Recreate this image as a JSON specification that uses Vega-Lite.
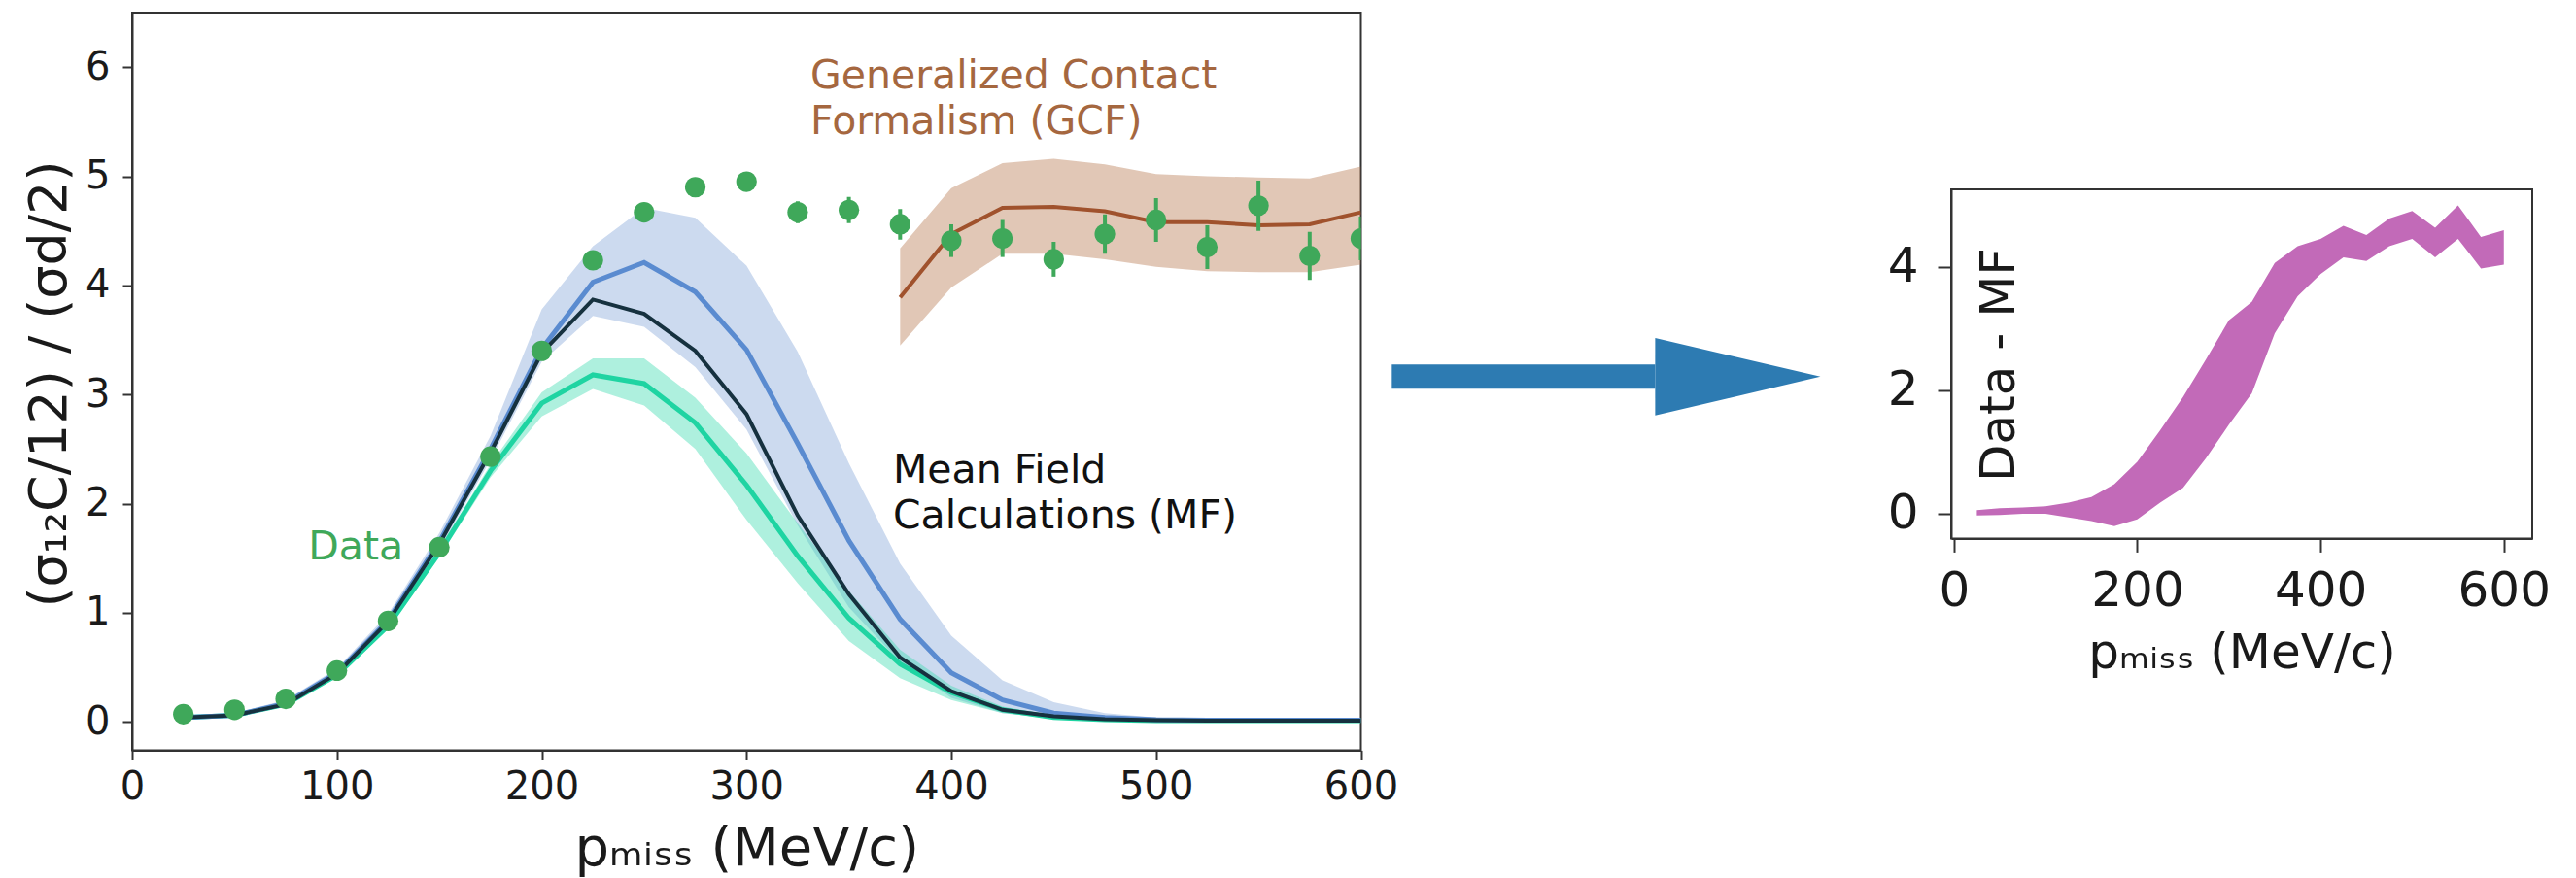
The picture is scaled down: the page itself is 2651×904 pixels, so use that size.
{
  "$schema": "https://vega.github.io/schema/vega-lite/v6.json",
  "background": "white",
  "padding": {"left": 22, "top": 12, "right": 0, "bottom": 0},
  "spacing": 66,
  "config": {
    "font": "DejaVu Sans",
    "view": {"stroke": "#333333", "strokeWidth": 2},
    "axis": {
      "grid": false,
      "domainColor": "#333333",
      "domainWidth": 2,
      "tickColor": "#333333",
      "tickWidth": 2,
      "labelColor": "#1a1a1a",
      "titleColor": "#1a1a1a",
      "labelFont": "DejaVu Sans",
      "titleFont": "DejaVu Sans",
      "titleFontWeight": "normal",
      "labelFlush": false,
      "labelOverlap": false
    }
  },
  "datasets": {
    "mf": [
      {"x": 25, "blue": 0.04, "blue_lo": 0.02, "blue_hi": 0.06, "dark": 0.04, "teal": 0.04, "teal_lo": 0.03, "teal_hi": 0.05},
      {"x": 50, "blue": 0.06, "blue_lo": 0.04, "blue_hi": 0.08, "dark": 0.06, "teal": 0.06, "teal_lo": 0.05, "teal_hi": 0.07},
      {"x": 75, "blue": 0.17, "blue_lo": 0.14, "blue_hi": 0.2, "dark": 0.16, "teal": 0.16, "teal_lo": 0.15, "teal_hi": 0.17},
      {"x": 100, "blue": 0.45, "blue_lo": 0.41, "blue_hi": 0.49, "dark": 0.44, "teal": 0.43, "teal_lo": 0.41, "teal_hi": 0.45},
      {"x": 125, "blue": 0.93, "blue_lo": 0.88, "blue_hi": 0.99, "dark": 0.92, "teal": 0.88, "teal_lo": 0.85, "teal_hi": 0.91},
      {"x": 150, "blue": 1.65, "blue_lo": 1.58, "blue_hi": 1.73, "dark": 1.63, "teal": 1.55, "teal_lo": 1.51, "teal_hi": 1.59},
      {"x": 175, "blue": 2.5, "blue_lo": 2.4, "blue_hi": 2.62, "dark": 2.47, "teal": 2.3, "teal_lo": 2.24, "teal_hi": 2.36},
      {"x": 200, "blue": 3.42, "blue_lo": 3.3, "blue_hi": 3.78, "dark": 3.38, "teal": 2.92, "teal_lo": 2.8, "teal_hi": 3.02},
      {"x": 225, "blue": 4.03, "blue_lo": 3.72, "blue_hi": 4.36, "dark": 3.87, "teal": 3.18, "teal_lo": 3.05, "teal_hi": 3.33},
      {"x": 250, "blue": 4.21, "blue_lo": 3.62, "blue_hi": 4.71, "dark": 3.74, "teal": 3.1, "teal_lo": 2.9, "teal_hi": 3.33},
      {"x": 275, "blue": 3.94, "blue_lo": 3.25, "blue_hi": 4.62, "dark": 3.4, "teal": 2.74, "teal_lo": 2.5, "teal_hi": 2.97},
      {"x": 300, "blue": 3.41, "blue_lo": 2.68, "blue_hi": 4.18, "dark": 2.82, "teal": 2.17, "teal_lo": 1.85, "teal_hi": 2.46},
      {"x": 325, "blue": 2.55, "blue_lo": 1.8, "blue_hi": 3.39, "dark": 1.89, "teal": 1.52, "teal_lo": 1.27, "teal_hi": 1.82},
      {"x": 350, "blue": 1.66, "blue_lo": 1.05, "blue_hi": 2.37, "dark": 1.17, "teal": 0.95, "teal_lo": 0.74, "teal_hi": 1.2},
      {"x": 375, "blue": 0.94, "blue_lo": 0.55, "blue_hi": 1.45, "dark": 0.59, "teal": 0.53, "teal_lo": 0.4, "teal_hi": 0.66},
      {"x": 400, "blue": 0.45, "blue_lo": 0.22, "blue_hi": 0.79, "dark": 0.28, "teal": 0.27, "teal_lo": 0.2, "teal_hi": 0.33},
      {"x": 425, "blue": 0.2, "blue_lo": 0.08, "blue_hi": 0.38, "dark": 0.11, "teal": 0.11, "teal_lo": 0.08, "teal_hi": 0.14},
      {"x": 450, "blue": 0.08, "blue_lo": 0.03, "blue_hi": 0.18, "dark": 0.05, "teal": 0.04, "teal_lo": 0.03, "teal_hi": 0.06},
      {"x": 475, "blue": 0.04, "blue_lo": 0.015, "blue_hi": 0.08, "dark": 0.025, "teal": 0.02, "teal_lo": 0.015, "teal_hi": 0.03},
      {"x": 500, "blue": 0.02, "blue_lo": 0.01, "blue_hi": 0.04, "dark": 0.015, "teal": 0.01, "teal_lo": 0.008, "teal_hi": 0.015},
      {"x": 525, "blue": 0.015, "blue_lo": 0.01, "blue_hi": 0.025, "dark": 0.01, "teal": 0.01, "teal_lo": 0.008, "teal_hi": 0.012},
      {"x": 550, "blue": 0.015, "blue_lo": 0.01, "blue_hi": 0.025, "dark": 0.01, "teal": 0.01, "teal_lo": 0.008, "teal_hi": 0.012},
      {"x": 575, "blue": 0.015, "blue_lo": 0.01, "blue_hi": 0.025, "dark": 0.01, "teal": 0.01, "teal_lo": 0.008, "teal_hi": 0.012},
      {"x": 600, "blue": 0.015, "blue_lo": 0.01, "blue_hi": 0.025, "dark": 0.01, "teal": 0.01, "teal_lo": 0.008, "teal_hi": 0.012}
    ],
    "gcf": [
      {"x": 375, "gcf": 3.89, "lo": 3.45, "hi": 4.34},
      {"x": 400, "gcf": 4.47, "lo": 3.98, "hi": 4.89},
      {"x": 425, "gcf": 4.71, "lo": 4.29, "hi": 5.12},
      {"x": 450, "gcf": 4.72, "lo": 4.29, "hi": 5.16},
      {"x": 475, "gcf": 4.68, "lo": 4.24, "hi": 5.11},
      {"x": 500, "gcf": 4.58, "lo": 4.17, "hi": 5.02},
      {"x": 525, "gcf": 4.58, "lo": 4.13, "hi": 5.0},
      {"x": 550, "gcf": 4.55, "lo": 4.12, "hi": 4.99},
      {"x": 575, "gcf": 4.56, "lo": 4.12, "hi": 4.98},
      {"x": 600, "gcf": 4.67, "lo": 4.19, "hi": 5.09}
    ],
    "points": [
      {"x": 25, "y": 0.07, "lo": 0.05, "hi": 0.09},
      {"x": 50, "y": 0.11, "lo": 0.09, "hi": 0.13},
      {"x": 75, "y": 0.21, "lo": 0.19, "hi": 0.23},
      {"x": 100, "y": 0.47, "lo": 0.44, "hi": 0.5},
      {"x": 125, "y": 0.925, "lo": 0.89, "hi": 0.96},
      {"x": 150, "y": 1.6, "lo": 1.56, "hi": 1.64},
      {"x": 175, "y": 2.43, "lo": 2.38, "hi": 2.48},
      {"x": 200, "y": 3.4, "lo": 3.34, "hi": 3.46},
      {"x": 225, "y": 4.23, "lo": 4.17, "hi": 4.29},
      {"x": 250, "y": 4.67, "lo": 4.61, "hi": 4.73},
      {"x": 275, "y": 4.9, "lo": 4.83, "hi": 4.97},
      {"x": 300, "y": 4.95, "lo": 4.87, "hi": 5.03},
      {"x": 325, "y": 4.67, "lo": 4.57, "hi": 4.77},
      {"x": 350, "y": 4.69, "lo": 4.57, "hi": 4.81},
      {"x": 375, "y": 4.56, "lo": 4.42, "hi": 4.7},
      {"x": 400, "y": 4.41, "lo": 4.26, "hi": 4.56},
      {"x": 425, "y": 4.43, "lo": 4.26, "hi": 4.6},
      {"x": 450, "y": 4.24, "lo": 4.08, "hi": 4.4},
      {"x": 475, "y": 4.47, "lo": 4.29, "hi": 4.65},
      {"x": 500, "y": 4.6, "lo": 4.4, "hi": 4.8},
      {"x": 525, "y": 4.35, "lo": 4.15, "hi": 4.55},
      {"x": 550, "y": 4.73, "lo": 4.5, "hi": 4.96},
      {"x": 575, "y": 4.27, "lo": 4.05, "hi": 4.49},
      {"x": 600, "y": 4.43, "lo": 4.23, "hi": 4.63}
    ],
    "label_gcf": [
      {"x": 331.2, "y": 5.81, "label": "Generalized Contact"},
      {"x": 331.2, "y": 5.39, "label": "Formalism (GCF)"}
    ],
    "label_mf": [
      {"x": 371.5, "y": 2.19, "label": "Mean Field"},
      {"x": 371.5, "y": 1.77, "label": "Calculations (MF)"}
    ],
    "label_data": [
      {"x": 86.0, "y": 1.485, "label": "Data"}
    ],
    "arrow_shaft": [
      {"x": 615.1, "x2": 743.7, "y": 3.053, "y2": 3.275}
    ],
    "arrow_head": [
      {"x": 743.7, "lo": 2.809, "hi": 3.518},
      {"x": 824.4, "lo": 3.164, "hi": 3.164}
    ],
    "diff": [
      {"x": 25, "lo": -0.03, "hi": 0.06},
      {"x": 50, "lo": -0.02, "hi": 0.09},
      {"x": 75, "lo": 0.0, "hi": 0.1},
      {"x": 100, "lo": 0.0, "hi": 0.12},
      {"x": 125, "lo": -0.06, "hi": 0.18},
      {"x": 150, "lo": -0.12, "hi": 0.27},
      {"x": 175, "lo": -0.2, "hi": 0.48},
      {"x": 200, "lo": -0.09, "hi": 0.84},
      {"x": 225, "lo": 0.18, "hi": 1.35},
      {"x": 250, "lo": 0.42, "hi": 1.89},
      {"x": 275, "lo": 0.9, "hi": 2.5},
      {"x": 300, "lo": 1.44, "hi": 3.13},
      {"x": 325, "lo": 1.95, "hi": 3.43},
      {"x": 350, "lo": 2.92, "hi": 4.06},
      {"x": 375, "lo": 3.52, "hi": 4.33},
      {"x": 400, "lo": 3.88, "hi": 4.45},
      {"x": 425, "lo": 4.15, "hi": 4.66},
      {"x": 450, "lo": 4.09, "hi": 4.51},
      {"x": 475, "lo": 4.33, "hi": 4.78},
      {"x": 500, "lo": 4.45, "hi": 4.9},
      {"x": 525, "lo": 4.15, "hi": 4.63},
      {"x": 550, "lo": 4.45, "hi": 4.99},
      {"x": 575, "lo": 3.97, "hi": 4.48},
      {"x": 600, "lo": 4.03, "hi": 4.59}
    ]
  },
  "hconcat": [
    {
      "width": 1264.5,
      "height": 759.4,
      "layer": [
        {
          "data": {"name": "mf"},
          "mark": {"type": "area", "color": "#7a9fd4", "opacity": 0.38, "clip": true},
          "encoding": {
            "x": {
              "field": "x", "type": "quantitative",
              "scale": {"domain": [0, 600], "nice": false, "zero": false},
              "axis": {
                "title": "pₘᵢₛₛ (MeV/c)",
                "values": [0, 100, 200, 300, 400, 500, 600],
                "format": "d",
                "labelFontSize": 40, "titleFontSize": 56,
                "tickSize": 10, "labelPadding": 8,
                "titleY": 118, "titleBaseline": "alphabetic"
              }
            },
            "y": {
              "field": "blue_lo", "type": "quantitative",
              "scale": {"domain": [-0.26, 6.5], "nice": false, "zero": false},
              "axis": {
                "title": "(σ₁₂C/12) / (σd/2)",
                "values": [0, 1, 2, 3, 4, 5, 6],
                "format": "d",
                "labelFontSize": 40, "titleFontSize": 54,
                "tickSize": 10, "labelPadding": 13,
                "titleX": -69, "titleY": 382, "titleBaseline": "alphabetic", "titleAlign": "center", "titleAngle": 270
              }
            },
            "y2": {"field": "blue_hi"}
          }
        },
        {
          "data": {"name": "mf"},
          "mark": {"type": "area", "color": "#3ddcb0", "opacity": 0.42, "clip": true},
          "encoding": {
            "x": {"field": "x", "type": "quantitative"},
            "y": {"field": "teal_lo", "type": "quantitative"},
            "y2": {"field": "teal_hi"}
          }
        },
        {
          "data": {"name": "gcf"},
          "mark": {"type": "area", "color": "#b87a50", "opacity": 0.42, "clip": true},
          "encoding": {
            "x": {"field": "x", "type": "quantitative"},
            "y": {"field": "lo", "type": "quantitative"},
            "y2": {"field": "hi"}
          }
        },
        {
          "data": {"name": "mf"},
          "mark": {"type": "line", "color": "#1fd4a2", "strokeWidth": 5, "clip": true},
          "encoding": {
            "x": {"field": "x", "type": "quantitative"},
            "y": {"field": "teal", "type": "quantitative"}
          }
        },
        {
          "data": {"name": "mf"},
          "mark": {"type": "line", "color": "#5a8bd0", "strokeWidth": 5, "clip": true},
          "encoding": {
            "x": {"field": "x", "type": "quantitative"},
            "y": {"field": "blue", "type": "quantitative"}
          }
        },
        {
          "data": {"name": "mf"},
          "mark": {"type": "line", "color": "#16313f", "strokeWidth": 4, "clip": true},
          "encoding": {
            "x": {"field": "x", "type": "quantitative"},
            "y": {"field": "dark", "type": "quantitative"}
          }
        },
        {
          "data": {"name": "gcf"},
          "mark": {"type": "line", "color": "#a0522d", "strokeWidth": 4, "clip": true},
          "encoding": {
            "x": {"field": "x", "type": "quantitative"},
            "y": {"field": "gcf", "type": "quantitative"}
          }
        },
        {
          "data": {"name": "points"},
          "mark": {"type": "rule", "color": "#3fa85a", "strokeWidth": 4, "clip": true},
          "encoding": {
            "x": {"field": "x", "type": "quantitative"},
            "y": {"field": "lo", "type": "quantitative"},
            "y2": {"field": "hi"}
          }
        },
        {
          "data": {"name": "points"},
          "mark": {"type": "circle", "color": "#3fa85a", "opacity": 1, "size": 450, "clip": true},
          "encoding": {
            "x": {"field": "x", "type": "quantitative"},
            "y": {"field": "y", "type": "quantitative"}
          }
        },
        {
          "data": {"name": "label_gcf"},
          "mark": {"type": "text", "color": "#a5673f", "fontSize": 41, "align": "left", "baseline": "alphabetic"},
          "encoding": {
            "x": {"field": "x", "type": "quantitative"},
            "y": {"field": "y", "type": "quantitative"},
            "text": {"field": "label"}
          }
        },
        {
          "data": {"name": "label_mf"},
          "mark": {"type": "text", "color": "#111111", "fontSize": 41, "align": "left", "baseline": "alphabetic"},
          "encoding": {
            "x": {"field": "x", "type": "quantitative"},
            "y": {"field": "y", "type": "quantitative"},
            "text": {"field": "label"}
          }
        },
        {
          "data": {"name": "label_data"},
          "mark": {"type": "text", "color": "#3fa85a", "fontSize": 41, "align": "left", "baseline": "alphabetic"},
          "encoding": {
            "x": {"field": "x", "type": "quantitative"},
            "y": {"field": "y", "type": "quantitative"},
            "text": {"field": "label"}
          }
        },
        {
          "data": {"name": "arrow_shaft"},
          "mark": {"type": "rect", "color": "#2d7bb2", "clip": false},
          "encoding": {
            "x": {"field": "x", "type": "quantitative"},
            "x2": {"field": "x2"},
            "y": {"field": "y", "type": "quantitative"},
            "y2": {"field": "y2"}
          }
        },
        {
          "data": {"name": "arrow_head"},
          "mark": {"type": "area", "color": "#2d7bb2", "opacity": 1, "clip": false},
          "encoding": {
            "x": {"field": "x", "type": "quantitative"},
            "y": {"field": "lo", "type": "quantitative"},
            "y2": {"field": "hi"}
          }
        }
      ]
    },
    {
      "spacing": 0,
      "vconcat": [
        {
          "width": 598,
          "height": 180.6,
          "view": {"stroke": null},
          "data": {"values": []},
          "mark": {"type": "point", "opacity": 0},
          "encoding": {}
        },
        {
          "width": 598,
          "height": 359.4,
          "data": {"name": "diff"},
          "mark": {"type": "area", "color": "#c26ab8", "opacity": 1, "clip": true},
          "encoding": {
            "x": {
              "field": "x", "type": "quantitative",
              "scale": {"domain": [-3, 631], "nice": false, "zero": false},
              "axis": {
                "title": "pₘᵢₛₛ (MeV/c)",
                "values": [0, 200, 400, 600],
                "format": "d",
                "labelFontSize": 50, "titleFontSize": 50,
                "tickSize": 14, "labelPadding": 15,
                "titleY": 133, "titleBaseline": "alphabetic"
              }
            },
            "y": {
              "field": "lo", "type": "quantitative",
              "scale": {"domain": [-0.4, 5.25], "nice": false, "zero": false},
              "axis": {
                "title": "Data - MF",
                "values": [0, 2, 4],
                "format": "d",
                "labelFontSize": 50, "titleFontSize": 50,
                "tickSize": 14, "labelPadding": 20,
                "titleX": 64, "titleY": 180, "titleBaseline": "alphabetic", "titleAlign": "center", "titleAngle": 270
              }
            },
            "y2": {"field": "hi"}
          }
        }
      ]
    }
  ]
}
